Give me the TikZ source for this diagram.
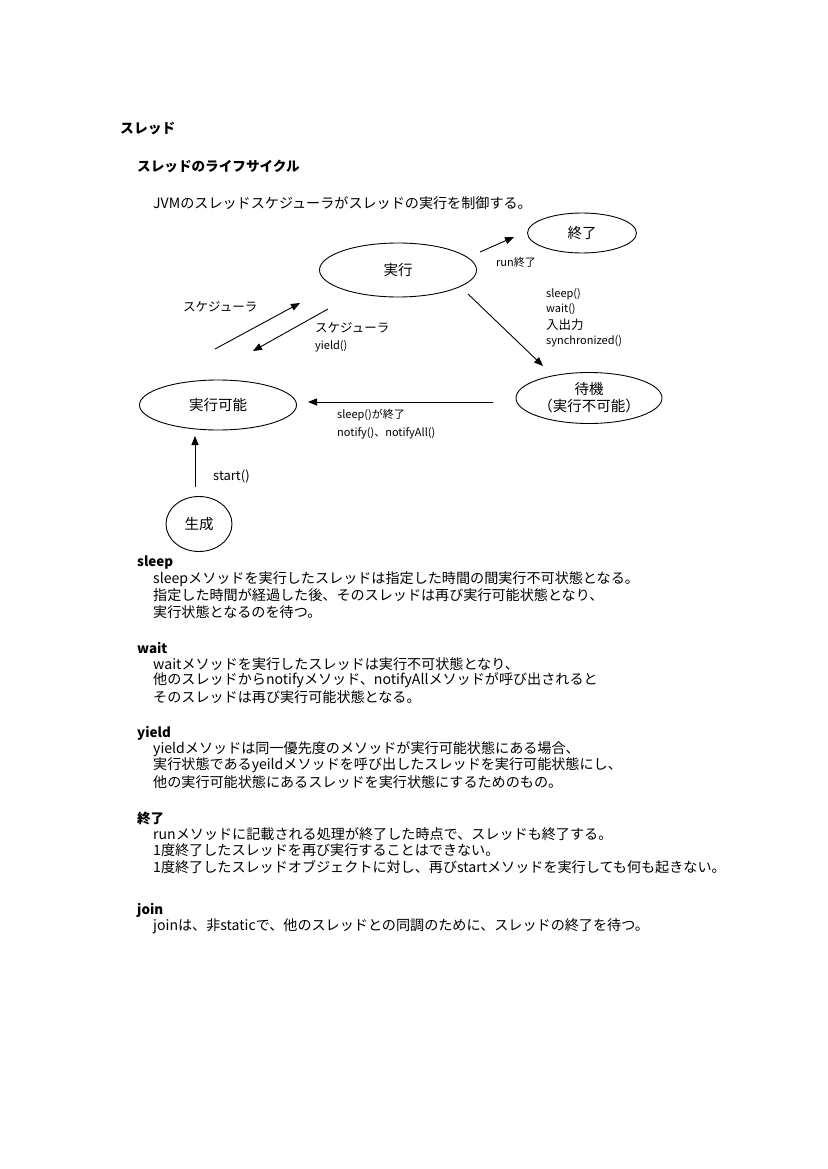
\documentclass[tikz,border=0pt]{standalone}
\usepackage{fontspec}
\setmainfont{Noto Sans CJK JP}
\usetikzlibrary{shapes.geometric,arrows.meta}
\tikzset{
  state/.style={ellipse,draw,line width=0.9pt,inner sep=0pt,font=\fontsize{14.5}{17}\selectfont,align=center},
  conn/.style={line width=0.9pt,-{Triangle[length=9pt,width=7pt]}},
  txt/.style={anchor=west,inner sep=0pt,font=\fontsize{14.1}{16}\selectfont},
  head/.style={anchor=west,inner sep=0pt,font=\fontsize{13.4}{16}\selectfont\bfseries},
  small/.style={anchor=west,inner sep=0pt,font=\fontsize{11}{12}\selectfont},
  lbl/.style={anchor=west,inner sep=0pt,font=\fontsize{12.5}{15}\selectfont},
}
\begin{document}
\begin{tikzpicture}[x=1pt,y=-1pt]
\useasboundingbox[fill=white] (0,0) rectangle (827,1169);
% headings
\node[head,font=\fontsize{13.8}{18}\selectfont\bfseries] (h1) at (120,129) {スレッド};
\node[head,font=\fontsize{13.6}{17}\selectfont\bfseries] (h2) at (137,166) {スレッドのライフサイクル};
\node[txt] (intro) at (153,203) {JVMのスレッドスケジューラがスレッドの実行を制御する。};
% states
\node[state,minimum width=157pt,minimum height=54pt] (run) at (398,270) {実行};
\node[state,minimum width=109pt,minimum height=40pt] (end) at (582,233) {終了};
\node[state,minimum width=146pt,minimum height=51pt] (wait) at (589,398) {待機\\（実行不可能）};
\node[state,minimum width=157pt,minimum height=50pt] (ready) at (218,405) {実行可能};
\node[state,minimum width=66pt,minimum height=55pt] (new) at (199,524) {生成};
% connector endpoints
\coordinate (a1) at (215,349); \coordinate (a2) at (300,303);
\coordinate (b1) at (328,309); \coordinate (b2) at (253,351);
\coordinate (c1) at (480,252); \coordinate (c2) at (514,237);
\coordinate (d1) at (468,294); \coordinate (d2) at (543,366);
\coordinate (e1) at (493,402); \coordinate (e2) at (308,402);
\coordinate (f1) at (195,487); \coordinate (f2) at (195,436);
\draw[conn] (a1) -- (a2);
\draw[conn] (b1) -- (b2);
\draw[conn] (c1) -- (c2);
\draw[conn] (d1) -- (d2);
\draw[conn] (e1) -- (e2);
\draw[conn] (f1) -- (f2);
% labels
\node[lbl] (l1) at (183,307) {スケジューラ};
\node[lbl] (l2) at (315,328) {スケジューラ};
\node[small] (l3) at (315,346) {yield()};
\node[small] (l4) at (496,262) {run終了};
\node[small] (l5) at (546,294) {sleep()};
\node[small] (l6) at (546,309) {wait()};
\node[lbl] (l7) at (546,325) {入出力};
\node[small] (l8) at (546,341) {synchronized()};
\node[small] (l9) at (337,415) {sleep()が終了};
\node[small] (l10) at (337,433) {notify()、notifyAll()};
\node[lbl,font=\fontsize{13}{15}\selectfont] (l11) at (213,476) {start()};
% sections
\node[head] (s1) at (137,563) {sleep};
\node[txt] (s1a) at (153,579) {sleepメソッドを実行したスレッドは指定した時間の間実行不可状態となる。};
\node[txt] (s1b) at (153,595) {指定した時間が経過した後、そのスレッドは再び実行可能状態となり、};
\node[txt] (s1c) at (153,612) {実行状態となるのを待つ。};
\node[head] (s2) at (137,648) {wait};
\node[txt] (s2a) at (153,664) {waitメソッドを実行したスレッドは実行不可状態となり、};
\node[txt] (s2b) at (153,680) {他のスレッドからnotifyメソッド、notifyAllメソッドが呼び出されると};
\node[txt] (s2c) at (153,697) {そのスレッドは再び実行可能状態となる。};
\node[head] (s3) at (137,733) {yield};
\node[txt] (s3a) at (153,749) {yieldメソッドは同一優先度のメソッドが実行可能状態にある場合、};
\node[txt] (s3b) at (153,765) {実行状態であるyeildメソッドを呼び出したスレッドを実行可能状態にし、};
\node[txt] (s3c) at (153,782) {他の実行可能状態にあるスレッドを実行状態にするためのもの。};
\node[head] (s4) at (137,818) {終了};
\node[txt] (s4a) at (153,834) {runメソッドに記載される処理が終了した時点で、スレッドも終了する。};
\node[txt] (s4b) at (153,850) {1度終了したスレッドを再び実行することはできない。};
\node[txt] (s4c) at (153,867) {1度終了したスレッドオブジェクトに対し、再びstartメソッドを実行しても何も起きない。};
\node[head] (s5) at (137,910) {join};
\node[txt] (s5a) at (153,926) {joinは、非staticで、他のスレッドとの同調のために、スレッドの終了を待つ。};
\end{tikzpicture}
\end{document}
